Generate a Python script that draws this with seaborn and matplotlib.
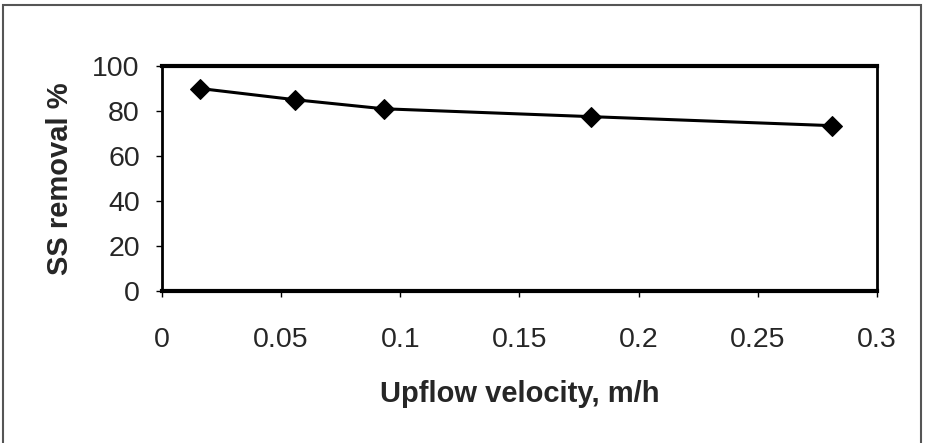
import numpy as np
import pandas as pd
import seaborn as sns
import matplotlib.pyplot as plt
from matplotlib.patches import Rectangle

# values
velocity = [0.016, 0.056, 0.093, 0.180, 0.281]
removal = [90.0, 85.0, 81.0, 77.5, 73.5]
x_ticks = [0, 0.05, 0.1, 0.15, 0.2, 0.25, 0.3]
x_tick_labels = ['0', '0.05', '0.1', '0.15', '0.2', '0.25', '0.3']
y_ticks = [0, 20, 40, 60, 80, 100]

sns.set_style('white')
plt.rcParams['font.family'] = ['Liberation Sans', 'DejaVu Sans']

df = pd.DataFrame({'velocity': velocity, 'removal': removal})

fig = plt.figure(figsize=(9.31, 4.43), dpi=100)
ax = fig.add_axes([0.174, 0.343, 0.768, 0.508])

sns.lineplot(data=df, x='velocity', y='removal', ax=ax, color='black',
             linewidth=2.2, marker='D', markersize=10, markeredgecolor='black')

ax.set_xlim(0, 0.3)
ax.set_ylim(0, 100)
ax.set_xticks(x_ticks)
ax.set_xticklabels(x_tick_labels)
ax.set_yticks(y_ticks)
ax.tick_params(axis='x', direction='out', length=4, width=1, pad=22, labelsize=20.5, color='black')
ax.tick_params(axis='y', direction='out', length=4, width=1, pad=12, labelsize=20.5, color='black')
ax.tick_params(bottom=True, left=True)

for side in ['top', 'bottom']:
    ax.spines[side].set_linewidth(3)
for side in ['left', 'right']:
    ax.spines[side].set_linewidth(2)
for sp in ax.spines.values():
    sp.set_color('black')
    sp.set_visible(True)

ax.set_xlabel('Upflow velocity, m/h', fontsize=21, fontweight='bold', labelpad=19)
ax.set_ylabel('SS removal %', fontsize=21, fontweight='bold', labelpad=13)

# scanned frame around the chart
fig.patches.append(Rectangle((0.003, -0.05), 0.986, 1.038, transform=fig.transFigure,
                             fill=False, edgecolor='#555555', linewidth=1.5))

fig.savefig('out.png', dpi=100)
